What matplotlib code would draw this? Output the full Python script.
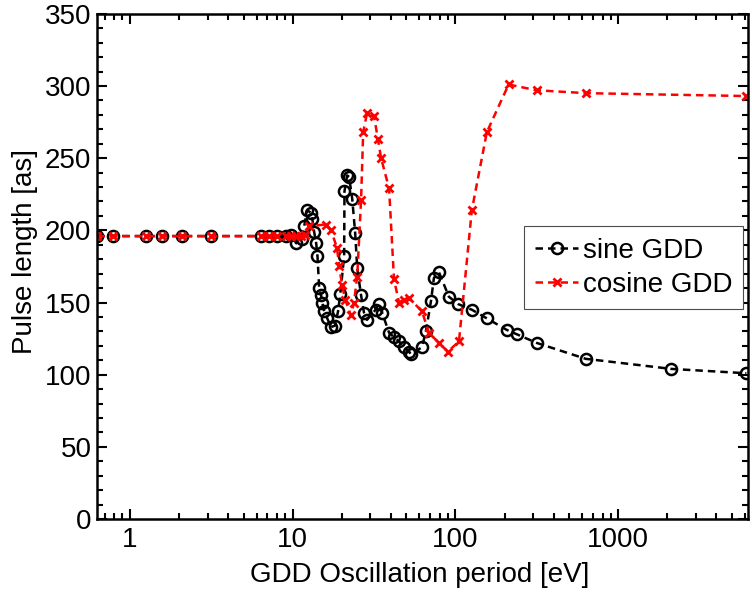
import numpy as np
import matplotlib
matplotlib.use("Agg")
import matplotlib.pyplot as plt
from matplotlib.ticker import MultipleLocator, LogLocator, NullFormatter

# GDD oscillation period [eV] and pulse length [as]
sine_period = [0.63, 0.782, 1.264, 1.585, 2.10, 3.165, 6.41, 7.18, 8.03, 9.12,
               9.79, 10.51, 11.43, 11.77, 12.27, 12.98, 13.2, 13.54, 13.94, 14.2,
               14.54, 14.95, 15.2, 15.6, 16.3, 17.2, 18.2, 19.0, 19.6, 20.7,
               20.8, 21.6, 22.2, 23.2, 24.2, 24.9, 26.3, 27.4, 28.6, 32.3,
               33.9, 35.4, 39.1, 41.9, 45.0, 48.3, 51.8, 53.3, 62.2, 65.8,
               70.7, 73.7, 79.1, 91.1, 103.4, 126.0, 155.8, 206.7, 237.9, 315.6,
               630.0, 2122.0, 6118.0]
sine_len = [196, 196, 196, 196, 196, 196, 196, 196, 196, 196,
            197, 191, 194, 203, 214, 212, 208, 199, 191, 182,
            160, 155, 150, 144, 139, 133, 134, 144, 156, 182,
            227, 238, 237, 222, 198, 174, 155, 143, 138, 145,
            149, 143, 129, 126, 123, 119, 116, 114, 119, 130,
            151, 167, 171, 154, 149, 145, 139, 131, 128, 122,
            111, 104, 101]

cos_period = [0.63, 0.782, 1.264, 1.585, 2.10, 3.165, 6.41, 7.18, 8.03, 9.12,
              9.79, 10.51, 11.3, 11.9, 12.6, 16.05, 17.2, 18.7, 19.3, 20.1,
              21.0, 22.8, 23.8, 24.9, 26.3, 27.1, 28.6, 31.6, 33.4, 34.9,
              39.1, 41.9, 45.0, 48.3, 51.8, 62.2, 68.7, 79.1, 89.8, 105.0,
              126.0, 155.8, 212.0, 315.0, 636.0, 6118.0]
cos_len = [196, 196, 196, 196, 196, 196, 196, 196, 196, 196,
           196, 196, 196, 197, 203, 204, 200, 188, 175, 162,
           152, 141, 150, 168, 221, 268, 281, 279, 263, 250,
           229, 166, 150, 152, 153, 144, 129, 122, 116, 123,
           214, 268, 301, 297, 295, 293]

plt.rcParams['font.family'] = ['Liberation Sans', 'DejaVu Sans']

fig = plt.figure(figsize=(7.52, 5.98), dpi=100)
ax = fig.add_axes([0.129, 0.132, 0.866, 0.845])

ax.plot(sine_period, sine_len, color='black', linestyle='--', linewidth=1.8,
        marker='o', markersize=8, markerfacecolor='none', markeredgewidth=1.8,
        label='sine GDD', dashes=(3, 2))
ax.plot(cos_period, cos_len, color='red', linestyle='--', linewidth=1.8,
        marker='x', markersize=6, markeredgewidth=2,
        label='cosine GDD', dashes=(3, 2))

ax.set_xscale('log')
ax.set_xlim(0.628, 6283)
ax.set_ylim(0, 350)
ax.set_xticks([1, 10, 100, 1000])
ax.set_xticklabels(['1', '10', '100', '1000'])
ax.xaxis.set_minor_locator(LogLocator(base=10, subs=np.arange(2, 10)))
ax.xaxis.set_minor_formatter(NullFormatter())
ax.yaxis.set_major_locator(MultipleLocator(50))
ax.yaxis.set_minor_locator(MultipleLocator(10))

ax.tick_params(which='both', direction='in', top=True, right=True,
               labelsize=20, width=1.5)
ax.tick_params(which='major', length=7)
ax.tick_params(which='minor', length=4)
ax.tick_params(axis='x', which='major', pad=5.5)
ax.tick_params(axis='y', which='major', pad=4)
for s in ax.spines.values():
    s.set_linewidth(1.8)

ax.set_xlabel('GDD Oscillation period [eV]', fontsize=20)
ax.set_ylabel('Pulse length [as]', fontsize=20)
ax.xaxis.set_label_coords(0.496, -0.085)
ax.yaxis.set_label_coords(-0.091, 0.529)

leg = ax.legend(loc='upper left', bbox_to_anchor=(0.656, 0.579), fontsize=20,
                fancybox=False, framealpha=1, edgecolor='0.3',
                handlelength=1.55, handletextpad=0.15, borderpad=0.4,
                labelspacing=0.3, borderaxespad=0)
leg.get_frame().set_linewidth(0.8)

fig.savefig('out.png', dpi=100)
